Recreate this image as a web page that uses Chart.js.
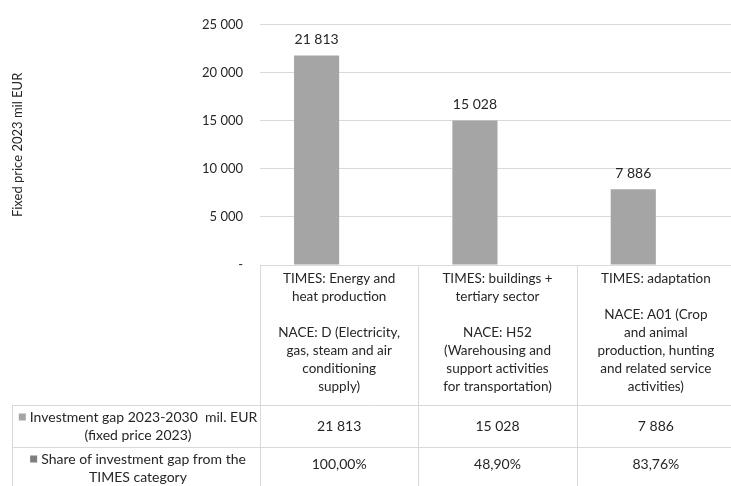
<!DOCTYPE html>
<html>
<head>
<meta charset="utf-8">
<script src="https://cdn.jsdelivr.net/npm/chart.js@4"></script>
<style>
  html, body { margin: 0; padding: 0; background: #fff; overflow: hidden; }
  #wrap { width: 735px; height: 486px; }
</style>
</head>
<body>
<div id="wrap"><canvas id="chart" width="735" height="486"></canvas></div>
<script>
// categories (two-part labels as shown in the data table header)
const categoryLines = [
    ['TIMES: Energy and', 'heat production', '', 'NACE: D (Electricity,', 'gas, steam and air', 'conditioning', 'supply)'],
    ['TIMES: buildings +', 'tertiary sector', '', 'NACE: H52', '(Warehousing and', 'support activities', 'for transportation)'],
    ['TIMES: adaptation', '', 'NACE: A01 (Crop', 'and animal', 'production, hunting', 'and related service', 'activities)'],
];
const categories = ['Energy and heat production', 'buildings + tertiary sector', 'adaptation'];

// series
const gapLabel = ['Investment gap 2023-2030  mil. EUR', '(fixed price 2023)'];
const gapValues = [21813, 15028, 7886];
const shareLabel = ['Share of investment gap from the', 'TIMES category'];
const shareValues = [1.0, 0.489, 0.8376];

// y axis
const yTicks = [0, 5000, 10000, 15000, 20000, 25000];
const yTitle = 'Fixed price 2023 mil EUR';

const FONT = 'Lato, "Open Sans", sans-serif';
const TEXT = '#262626';
const BORDER = '#d9d9d9';
const GAP_COLOR = '#a5a5a5';
const SHARE_COLOR = '#7f7f7f';

const fmtNum = v => v === 0 ? '-' : String(Math.round(v)).replace(/\B(?=(\d{3})+(?!\d))/g, ' ');
const fmtPct = v => (v * 100).toFixed(2).replace('.', ',') + '%';

// value labels above the gap bars
const valueLabels = {
    id: 'valueLabels',
    afterDatasetsDraw(chart) {
        const ctx = chart.ctx;
        const meta = chart.getDatasetMeta(0);
        ctx.save();
        ctx.font = '14px ' + FONT;
        ctx.fillStyle = TEXT;
        ctx.textAlign = 'center';
        ctx.textBaseline = 'middle';
        meta.data.forEach((bar, i) => {
            ctx.fillText(fmtNum(gapValues[i]), bar.x, bar.y - 16);
        });
        ctx.restore();
    }
};

// data table under the plot, columns follow the x scale
const dataTable = {
    id: 'dataTable',
    afterDraw(chart) {
        const ctx = chart.ctx;
        const area = chart.chartArea;
        const xs = chart.scales.x;
        const n = categories.length;
        const colW = (area.right - area.left) / n;
        const tableLeft = 12;
        const headTop = area.bottom;
        const row1 = 405, row2 = 447, rowEnd = 489;

        ctx.save();
        ctx.strokeStyle = BORDER;
        ctx.lineWidth = 1;
        const hline = (x1, x2, y) => { ctx.beginPath(); ctx.moveTo(x1, y + 0.5); ctx.lineTo(x2, y + 0.5); ctx.stroke(); };
        const vline = (x, y1, y2) => { ctx.beginPath(); ctx.moveTo(x + 0.5, y1); ctx.lineTo(x + 0.5, y2); ctx.stroke(); };

        hline(area.left, area.right, headTop);
        hline(tableLeft, area.right, row1);
        hline(tableLeft, area.right, row2);
        hline(tableLeft, area.right, rowEnd);
        vline(tableLeft, row1, rowEnd);
        for (let i = 0; i <= n; i++) {
            vline(Math.round(area.left + i * colW), headTop, rowEnd);
        }

        ctx.fillStyle = TEXT;
        ctx.textAlign = 'center';
        ctx.textBaseline = 'middle';

        // category headers
        const lh = 18;
        ctx.font = '13.5px ' + FONT;
        categoryLines.forEach((lines, i) => {
            const cx = xs.getPixelForValue(i);
            const start = (headTop + row1) / 2 - (lines.length - 1) * lh / 2 - 2;
            lines.forEach((t, j) => ctx.fillText(t, cx, start + j * lh));
        });

        // row headers with legend squares
        ctx.font = '14px ' + FONT;
        const rowHead = (lines, color, top, bottom) => {
            const cx = (tableLeft + area.left) / 2 + 2;
            const mid = (top + bottom) / 2;
            const y0 = mid - lh / 2;
            const w0 = ctx.measureText(lines[0]).width;
            const sq = 7;
            const x0 = cx - (w0 + sq + 4) / 2;
            ctx.fillStyle = color;
            ctx.fillRect(x0, y0 - sq / 2, sq, sq);
            ctx.fillStyle = TEXT;
            ctx.textAlign = 'left';
            ctx.fillText(lines[0], x0 + sq + 4, y0);
            ctx.textAlign = 'center';
            ctx.fillText(lines[1], cx, y0 + lh);
        };
        rowHead(gapLabel, GAP_COLOR, row1, row2);
        rowHead(shareLabel, SHARE_COLOR, row2, rowEnd);

        // cell values
        for (let i = 0; i < n; i++) {
            const cx = xs.getPixelForValue(i);
            ctx.fillText(fmtNum(gapValues[i]), cx, (row1 + row2) / 2);
            ctx.fillText(fmtPct(shareValues[i]), cx, (row2 + rowEnd) / 2 - 4);
        }
        ctx.restore();
    }
};

new Chart(document.getElementById('chart'), {
    type: 'bar',
    data: {
        labels: categories,
        datasets: [
            { label: gapLabel.join(' '), data: gapValues, backgroundColor: GAP_COLOR },
            // share values sit on the same axis, so their bars are practically zero height
            { label: shareLabel.join(' '), data: shareValues, backgroundColor: 'rgba(0,0,0,0)' },
        ],
    },
    options: {
        responsive: false,
        devicePixelRatio: 1,
        animation: false,
        categoryPercentage: 0.57,
        barPercentage: 1,
        layout: { padding: { left: 8, top: 20, right: 0, bottom: 221 } },
        plugins: { legend: { display: false }, tooltip: { enabled: false } },
        scales: {
            x: { display: false, offset: true },
            y: {
                min: 0, max: 25000,
                afterBuildTicks: s => { s.ticks = yTicks.map(v => ({ value: v })); },
                afterFit: s => { s.width = 252; },
                grid: { color: BORDER, drawTicks: false },
                border: { display: false },
                ticks: { color: TEXT, font: { family: FONT, size: 13 }, padding: 17, callback: v => fmtNum(v) },
                title: { display: true, text: yTitle, color: TEXT, font: { family: FONT, size: 13 }, padding: { top: 2, bottom: 0 } },
            },
        },
    },
    plugins: [valueLabels, dataTable],
});
</script>
</body>
</html>
